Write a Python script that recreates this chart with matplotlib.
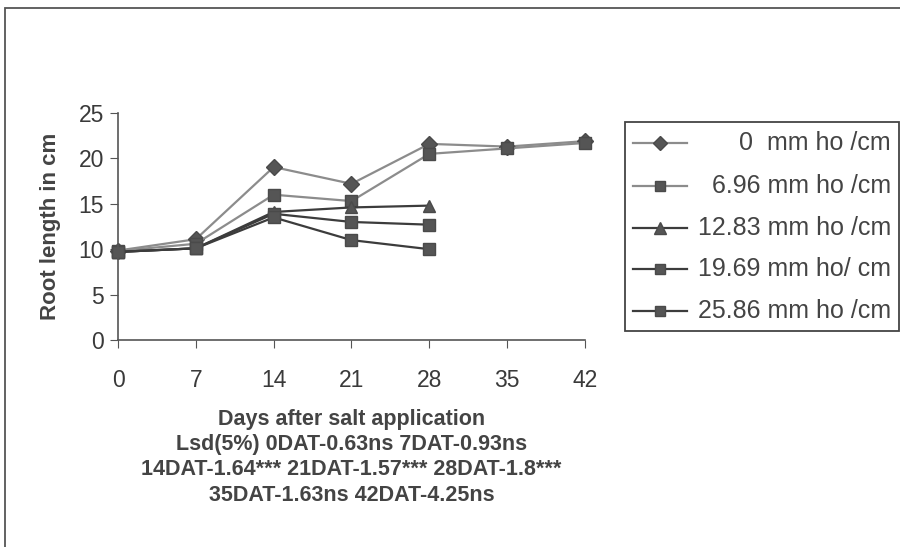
import numpy as np
import matplotlib.pyplot as plt
from matplotlib.lines import Line2D
from matplotlib.patches import Rectangle

plt.rcParams["font.family"] = ["Liberation Sans", "DejaVu Sans"]

days = [0, 7, 14, 21, 28, 35, 42]
salt_0 = [9.85, 11.1, 19.05, 17.2, 21.6, 21.3, 21.9]
salt_696 = [9.8, 10.6, 16.0, 15.3, 20.5, 21.1, 21.7]
salt_1283 = [9.7, 10.1, 14.1, 14.6, 14.8]
salt_1969 = [9.7, 10.1, 13.9, 13.0, 12.7]
salt_2586 = [9.7, 10.1, 13.5, 11.0, 10.0]

labels = [
    "0  mm ho /cm",
    "6.96 mm ho /cm",
    "12.83 mm ho /cm",
    "19.69 mm ho/ cm",
    "25.86 mm ho /cm",
]

W, H = 900, 547
fig = plt.figure(figsize=(9, 5.47), dpi=100)

# outer chart border (left and top edges visible, rest runs off the page)
fig.patches.append(Rectangle((5 / W, -0.05), 1.1, 1.05 - 8 / H,
                             transform=fig.transFigure, fill=False,
                             edgecolor="#555555", linewidth=1.3))

ax = fig.add_axes([118 / W, 1 - 340 / H, 467 / W, 227 / H])

styles = [
    (salt_0, "D", "#8c8c8c", 8),
    (salt_696, "s", "#8c8c8c", 8),
    (salt_1283, "^", "#3c3c3c", 9),
    (salt_1969, "s", "#3c3c3c", 8),
    (salt_2586, "s", "#3c3c3c", 8),
]
for vals, mk, lc, ms in styles:
    ax.plot(days[:len(vals)], vals, color=lc, linewidth=1.6, marker=mk,
            markersize=ms, markerfacecolor="#555555", markeredgecolor="#4a4a4a",
            clip_on=False)

ax.set_xlim(0, 42)
ax.set_ylim(0, 25)
ax.set_xticks(days)
ax.set_yticks([0, 5, 10, 15, 20, 25])
ax.tick_params(labelsize=16.5, colors="#555555", labelcolor="#3a3a3a",
               length=6, direction="out")
ax.tick_params(axis="x", pad=15)
ax.tick_params(axis="y", pad=4)
for s in ["top", "right"]:
    ax.spines[s].set_visible(False)
for s in ["left", "bottom"]:
    ax.spines[s].set_color("#555555")
    ax.spines[s].set_linewidth(1.2)
ax.set_ylabel("Root length in cm", fontsize=16, fontweight="bold", color="#444444",
              labelpad=13)

xlabel = ("Days after salt application\n"
          "Lsd(5%) 0DAT-0.63ns 7DAT-0.93ns\n"
          "14DAT-1.64*** 21DAT-1.57*** 28DAT-1.8***\n"
          "35DAT-1.63ns 42DAT-4.25ns")
ax.set_xlabel(xlabel, fontsize=15.5, fontweight="bold", color="#444444",
              linespacing=1.27, labelpad=12)

# legend box drawn in figure pixels
fig.patches.append(Rectangle((625 / W, 1 - 331 / H), 274 / W, 209 / H,
                             transform=fig.transFigure, fill=False,
                             edgecolor="#444444", linewidth=1.3))
rows_y = [143, 186, 228, 269, 311]
for (vals, mk, lc, ms), lab, ry in zip(styles, labels, rows_y):
    yy = 1 - ry / H
    fig.lines.append(Line2D([633 / W, 660 / W, 687 / W], [yy, yy, yy],
                            transform=fig.transFigure, color=lc, linewidth=1.6,
                            marker=mk, markevery=[1], markersize=ms - 1,
                            markerfacecolor="#555555", markeredgecolor="#4a4a4a"))
    fig.text(891 / W, yy, lab, ha="right", va="center", fontsize=18,
             color="#444444")

fig.savefig("out.png", dpi=100)
